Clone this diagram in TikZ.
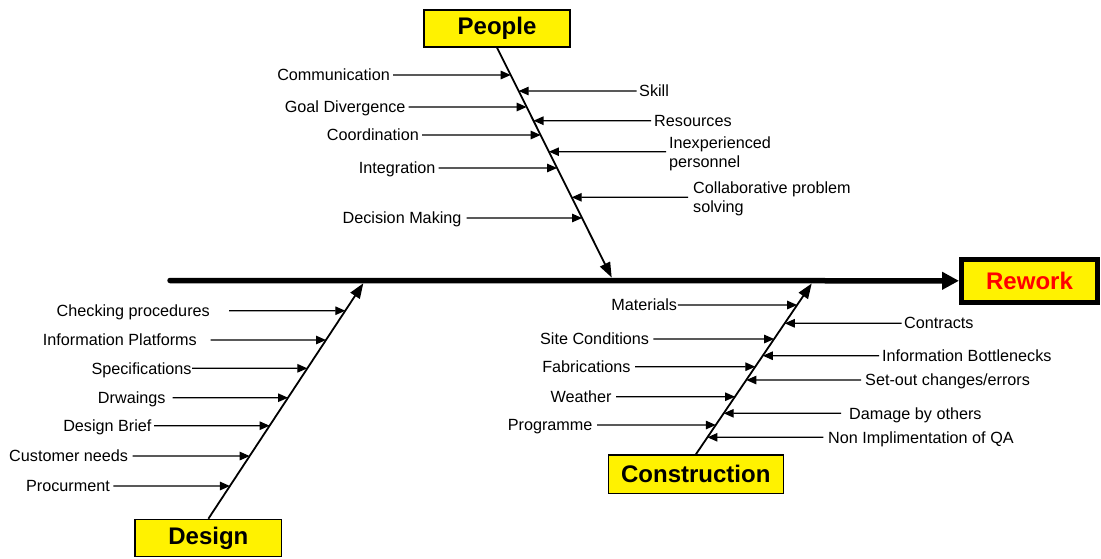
\documentclass[tikz,border=0pt]{standalone}
\usepackage{fontspec}
\setmainfont{Liberation Sans}
\usetikzlibrary{arrows.meta}
\tikzset{cause/.style = {line width=1.2, -{Triangle[length=10pt,width=8.5pt]}}}
\tikzset{bone/.style = {line width=1.8, -{Triangle[length=15pt,width=11pt]}}}
\tikzset{spine/.style = {line width=5.5, line cap=round, -{Triangle[length=17pt,width=17pt]}}}
\tikzset{lbl/.style = {inner sep=0, align=left, text depth=0pt,
                       font=\fontsize{16.2}{19}\selectfont}}
\tikzset{catbox/.style = {draw, fill=yellow, line width=1.2, inner sep=0,
                          font=\fontsize{24}{27}\selectfont\bfseries}}

\begin{document}
\begin{tikzpicture}[x=1pt, y=-1pt]
  \useasboundingbox (0,0) rectangle (1101,559);

  \node [catbox, minimum width=146, minimum height=37] (people) at (497,28.5) {People};
  \node [catbox, minimum width=146.7, minimum height=37.4] (design) at (208.4,538) {Design};
  \node [catbox, minimum width=175, minimum height=38.3] (constr) at (695.8,474.2) {Construction};
  \node [catbox, line width=5, minimum width=136, minimum height=43.5, text=red] (rework) at (1029.5,280.8) {Rework};

  \coordinate (tail) at (170,280.5);
  \coordinate (ptip) at (611.7,277.5);
  \coordinate (dtip) at (363.3,283.3);
  \coordinate (ctip) at (811.7,283.5);

  \draw [spine] (tail) -- (rework.west);
  \draw [bone] (people.south) -- (ptip);
  \draw [bone] (design.north) -- (dtip);
  \draw [bone] (constr.north) -- (ctip);

  % people
  \foreach \y/\x/\g/\t [count=\i] in {75/390/3/Communication, 107/405.7/3/Goal Divergence,
      135/419/3/Coordination, 168/435.7/3/Integration, 218/461.7/5/Decision Making}{
    \node [lbl, anchor=east] (pl\i) at (\x,\y) {\t};
    \draw [cause] ([xshift=\g]pl\i.east) -- (intersection of people.south--ptip and pl\i.east--pl\i.west);
  }
  \foreach \y/\x/\g/\t [count=\i] in {91/639/2.5/Skill, 120.7/654/3/Resources,
      151.7/669/3/{Inexperienced\\personnel}, 197.3/693/5/{Collaborative problem\\solving}}{
    \node [lbl, anchor=west] (pr\i) at (\x,\y) {\t};
    \draw [cause] ([xshift=-\g]pr\i.west) -- (intersection of people.south--ptip and pr\i.west--pr\i.east);
  }

  % design
  \foreach \y/\x/\g/\t [count=\i] in {310.7/210/19/Checking procedures, 340/197/13.7/Information Platforms,
      368.3/191.7/0.5/Specifications, 397.7/165.7/7/Drwaings, 425.7/151.7/2.5/Design Brief,
      456/128.3/4.4/Customer needs, 486/110/3.3/Procurment}{
    \node [lbl, anchor=east] (dl\i) at (\x,\y) {\t};
    \draw [cause] ([xshift=\g]dl\i.east) -- (intersection of design.north--dtip and dl\i.east--dl\i.west);
  }

  % construction
  \foreach \y/\x/\g/\t [count=\i] in {305/677.3/0.5/Materials, 339/649.3/4/Site Conditions,
      366.7/630.7/4.3/Fabrications, 396.7/611.7/4.3/Weather, 425/592.7/4.3/Programme}{
    \node [lbl, anchor=east] (cl\i) at (\x,\y) {\t};
    \draw [cause] ([xshift=\g]cl\i.east) -- (intersection of constr.north--ctip and cl\i.east--cl\i.west);
  }
  \foreach \y/\x/\g/\t [count=\i] in {323.3/904/2.3/Contracts, 355.7/882/3/Information Bottlenecks,
      380/865/4/{Set-out changes/errors}, 413.3/849/8/Damage by others, 437.3/828/4.7/Non Implimentation of QA}{
    \node [lbl, anchor=west] (cr\i) at (\x,\y) {\t};
    \draw [cause] ([xshift=-\g]cr\i.west) -- (intersection of constr.north--ctip and cr\i.west--cr\i.east);
  }
\end{tikzpicture}
\end{document}
